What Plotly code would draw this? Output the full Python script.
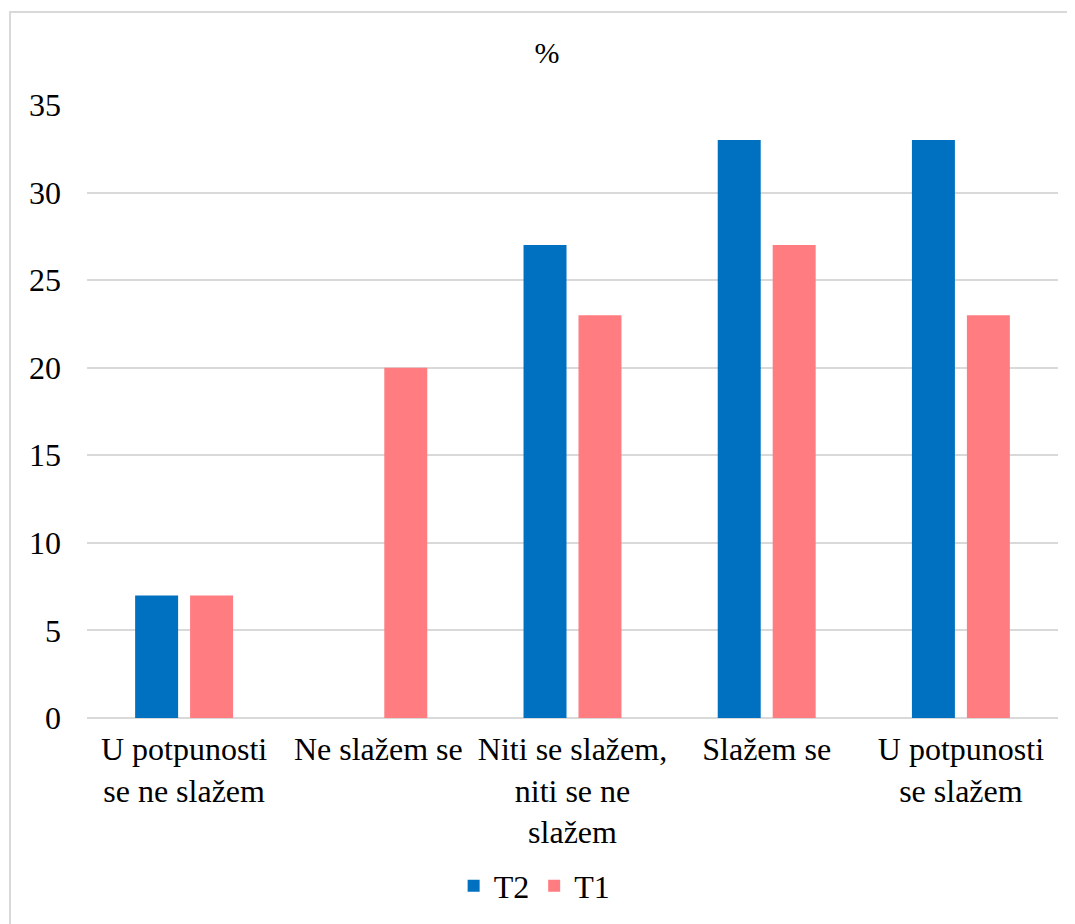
import plotly.graph_objects as go

categories = ["U potpunosti<br>se ne slažem", "Ne slažem se", "Niti se slažem,<br>niti se ne<br>slažem",
              "Slažem se", "U potpunosti<br>se slažem"]
t2_values = [7, 0, 27, 33, 33]
t1_values = [7, 20, 23, 27, 23]
y_ticks = [0, 5, 10, 15, 20, 25, 30, 35]

FONT = "Liberation Serif"
OFF = 8  # page body margin
W, H = 1075 - OFF, 924 - OFF
L, T = 87 - OFF, 105 - OFF
R = W - (1058 - OFF)
B = H - (718 - OFF)
pw, ph = W - L - R, H - T - B

fig = go.Figure()
fig.add_trace(go.Bar(name="T2", x=categories, y=t2_values, marker=dict(color="#0070C0", line=dict(width=0))))
fig.add_trace(go.Bar(name="T1", x=categories, y=t1_values, marker=dict(color="#FF7C80", line=dict(width=0))))

fig.update_layout(
    width=W, height=H,
    margin=dict(l=L, r=R, t=T, b=B, autoexpand=False),
    paper_bgcolor="white", plot_bgcolor="white",
    barmode="group", bargap=0.434, bargroupgap=0.218,
    font=dict(family=FONT, size=32, color="black"),
    title=dict(text="%", x=(547 - OFF) / W, xanchor="center", y=1 - (52 - OFF) / H, yanchor="middle",
               font=dict(family=FONT, size=30, color="black")),
    showlegend=True,
    legend=dict(orientation="h", x=0.461, xanchor="center", y=(718 - 886) / ph, yanchor="middle",
                font=dict(family=FONT, size=32, color="black"), itemwidth=30, traceorder="normal"),
    xaxis=dict(showgrid=False, showline=False, ticks="", tickfont=dict(family=FONT, size=32, color="black"),
               ticklabelstandoff=9),
    yaxis=dict(range=[0, 35], tickvals=y_ticks, showgrid=True, gridcolor="#D9D9D9", gridwidth=1.5,
               zeroline=True, zerolinecolor="#D9D9D9", zerolinewidth=1.5, showline=False, ticks="",
               tickfont=dict(family=FONT, size=32, color="black"), ticklabelstandoff=25),
)

# outer chart border
fig.add_shape(type="rect", xref="paper", yref="paper",
              x0=(10 - 87) / pw, x1=(W + 20 - L) / pw,
              y0=-(H + 20 - T - ph) / ph, y1=1 + (105 - 12) / ph,
              line=dict(color="#D9D9D9", width=2), fillcolor="rgba(0,0,0,0)", layer="below")

fig.write_html("out.html")
